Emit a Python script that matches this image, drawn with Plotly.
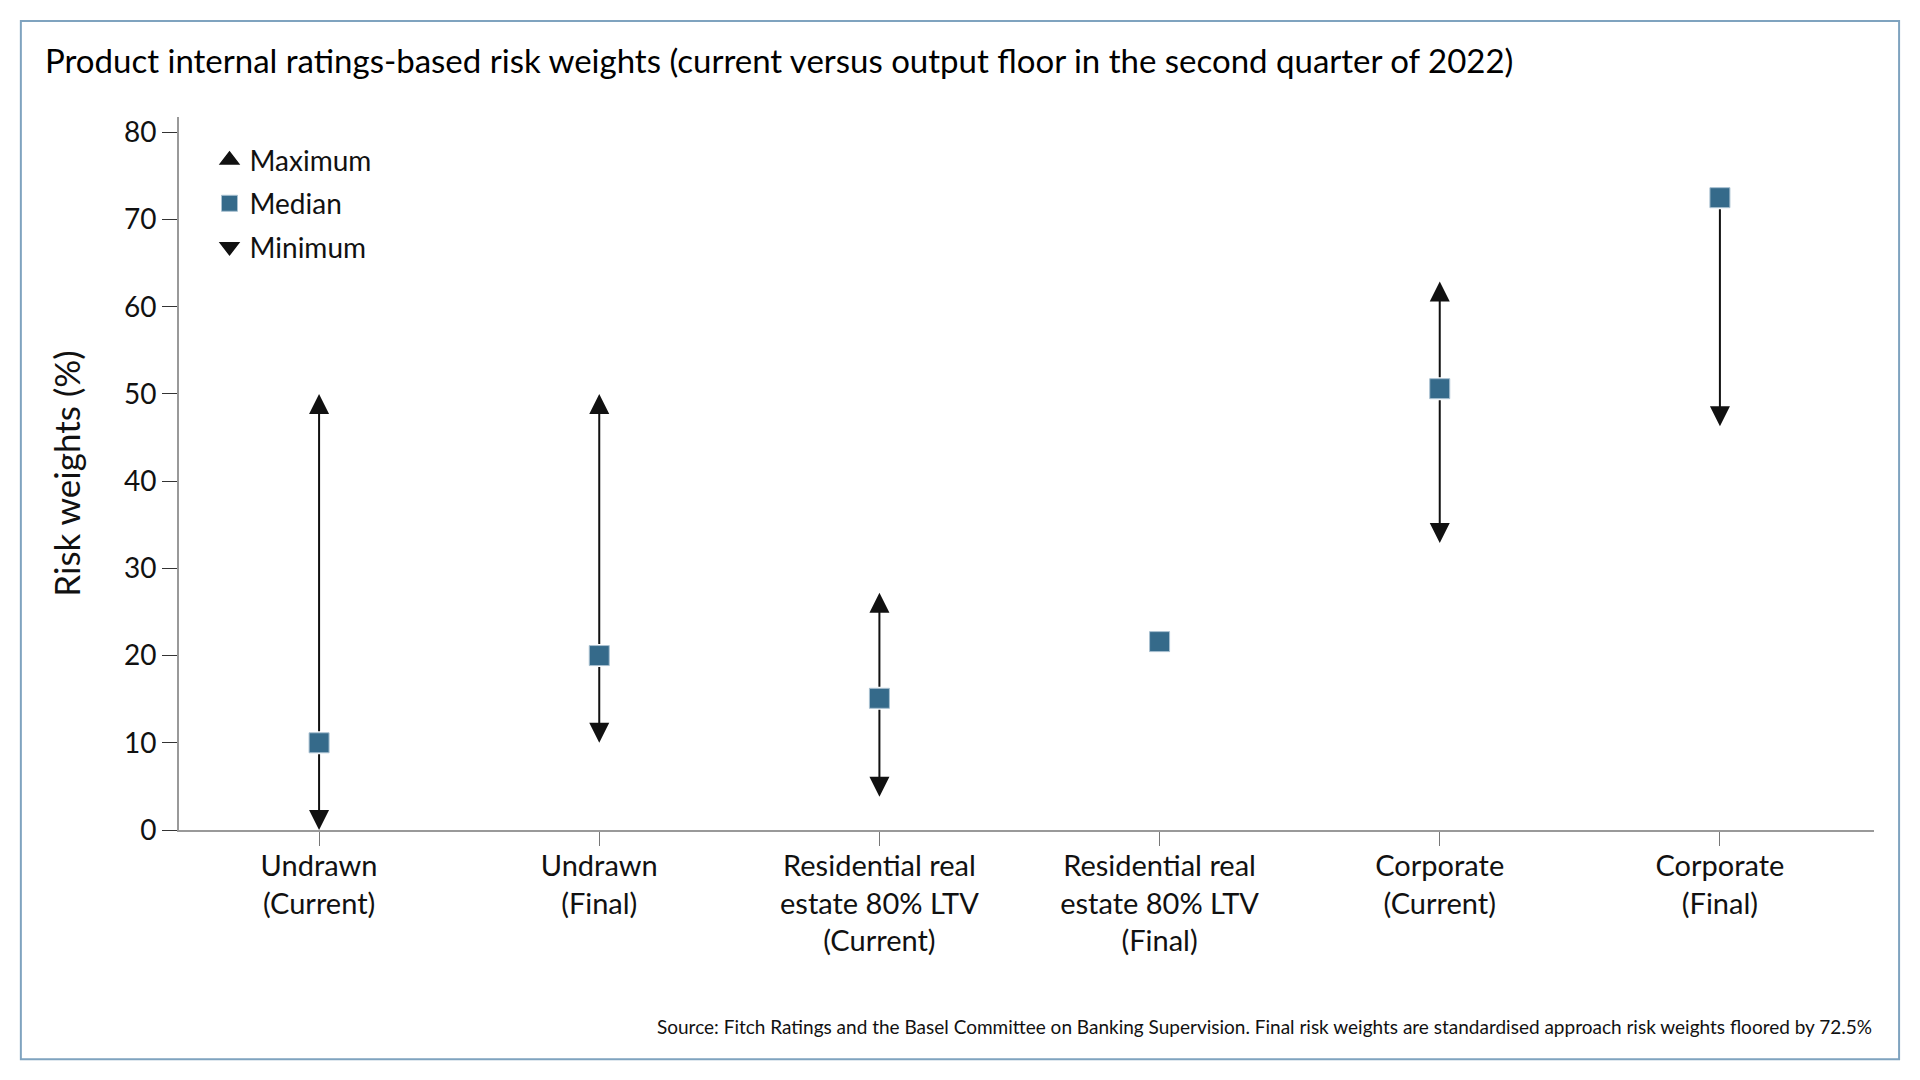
import plotly.graph_objects as go

categories = [
    "Undrawn<br>(Current)",
    "Undrawn<br>(Final)",
    "Residential real<br>estate 80% LTV<br>(Current)",
    "Residential real<br>estate 80% LTV<br>(Final)",
    "Corporate<br>(Current)",
    "Corporate<br>(Final)",
]
median_vals = [10.0, 20.0, 15.1, 21.6, 50.6, 72.5]
max_vals = [50.0, 50.0, 27.2, None, 62.9, None]
min_vals = [0.0, 10.0, 3.8, None, 32.9, 46.3]
y_tick_vals = [0, 10, 20, 30, 40, 50, 60, 70, 80]

TITLE = "Product internal ratings-based risk weights (current versus output floor in the second quarter of 2022)"
SOURCE = ("Source: Fitch Ratings and the Basel Committee on Banking Supervision. "
          "Final risk weights are standardised approach risk weights floored by 72.5%")

FONT = "Lato, Roboto, sans-serif"
INK = "#111111"
MED = "#356a8a"

xs = list(range(len(categories)))

fig = go.Figure()
fig.add_trace(go.Scatter(x=[None], y=[None], mode="markers", name="Maximum", legendgroup="a",
                         marker=dict(symbol="triangle-up", size=16, color=INK,
                                     line=dict(color=INK, width=1.5))))
fig.add_trace(go.Scatter(x=xs, y=median_vals, mode="markers", name="Median", legendgroup="b",
                         marker=dict(symbol="square", size=20, color=MED,
                                     line=dict(color="#a9c1d1", width=1))))
fig.add_trace(go.Scatter(x=[None], y=[None], mode="markers", name="Minimum", legendgroup="c",
                         marker=dict(symbol="triangle-down", size=16, color=INK,
                                     line=dict(color=INK, width=1.5))))

annotations = []
for xi, med, hi, lo in zip(xs, median_vals, max_vals, min_vals):
    for end in (hi, lo):
        if end is None:
            continue
        annotations.append(dict(
            x=xi, y=end, ax=xi, ay=med, xref="x", yref="y", axref="x", ayref="y",
            text="", showarrow=True, arrowhead=2, arrowsize=2, arrowwidth=2,
            arrowcolor=INK, standoff=0, startstandoff=10))

annotations.append(dict(
    text=SOURCE, xref="paper", yref="paper", x=1.0, y=-0.276,
    xanchor="right", yanchor="middle", showarrow=False,
    font=dict(family=FONT, size=19, color="#111111")))

shapes = [dict(type="rect", xref="paper", yref="paper",
               x0=-0.0933, x1=1.0148, y0=-0.3215, y1=1.1348,
               line=dict(color="#7fa3bf", width=2), fillcolor="rgba(0,0,0,0)", layer="below")]

fig.update_layout(
    width=1920, height=1080,
    margin=dict(l=179, r=46, t=117, b=250),
    paper_bgcolor="white", plot_bgcolor="white",
    font=dict(family=FONT, color="#111111"),
    title=dict(text=TITLE, x=45 / 1920, xanchor="left", xref="container",
               y=1 - 61 / 1080, yanchor="middle", yref="container",
               font=dict(family=FONT, size=33, color="#000000")),
    showlegend=True,
    legend=dict(x=0.018, y=0.9745, xanchor="left", yanchor="top",
                bgcolor="rgba(0,0,0,0)", font=dict(family=FONT, size=28, color="#111111"),
                itemsizing="trace", tracegroupgap=4),
    annotations=annotations,
    shapes=shapes,
)
fig.update_xaxes(range=[-0.5, 5.55], tickvals=xs, ticktext=categories,
                 showgrid=False, zeroline=False, showline=True, linecolor="#999999", linewidth=2,
                 ticks="outside", ticklen=14, tickwidth=1.3, tickcolor="#777777",
                 ticklabelstandoff=-5,
                 tickfont=dict(family=FONT, size=29, color="#111111"))
fig.update_yaxes(range=[0, 81.75], tickvals=y_tick_vals,
                 showgrid=False, zeroline=False, showline=True, linecolor="#999999", linewidth=2,
                 ticks="outside", ticklen=15, tickwidth=1.3, tickcolor="#333333",
                 tickfont=dict(family=FONT, size=28, color="#111111"),
                 title=dict(text="Risk weights (%)", standoff=33,
                            font=dict(family=FONT, size=35, color="#111111")))

fig.write_html("out.html", config={"displayModeBar": False},
               post_script="document.body.style.margin='0';document.body.style.overflow='hidden';")
